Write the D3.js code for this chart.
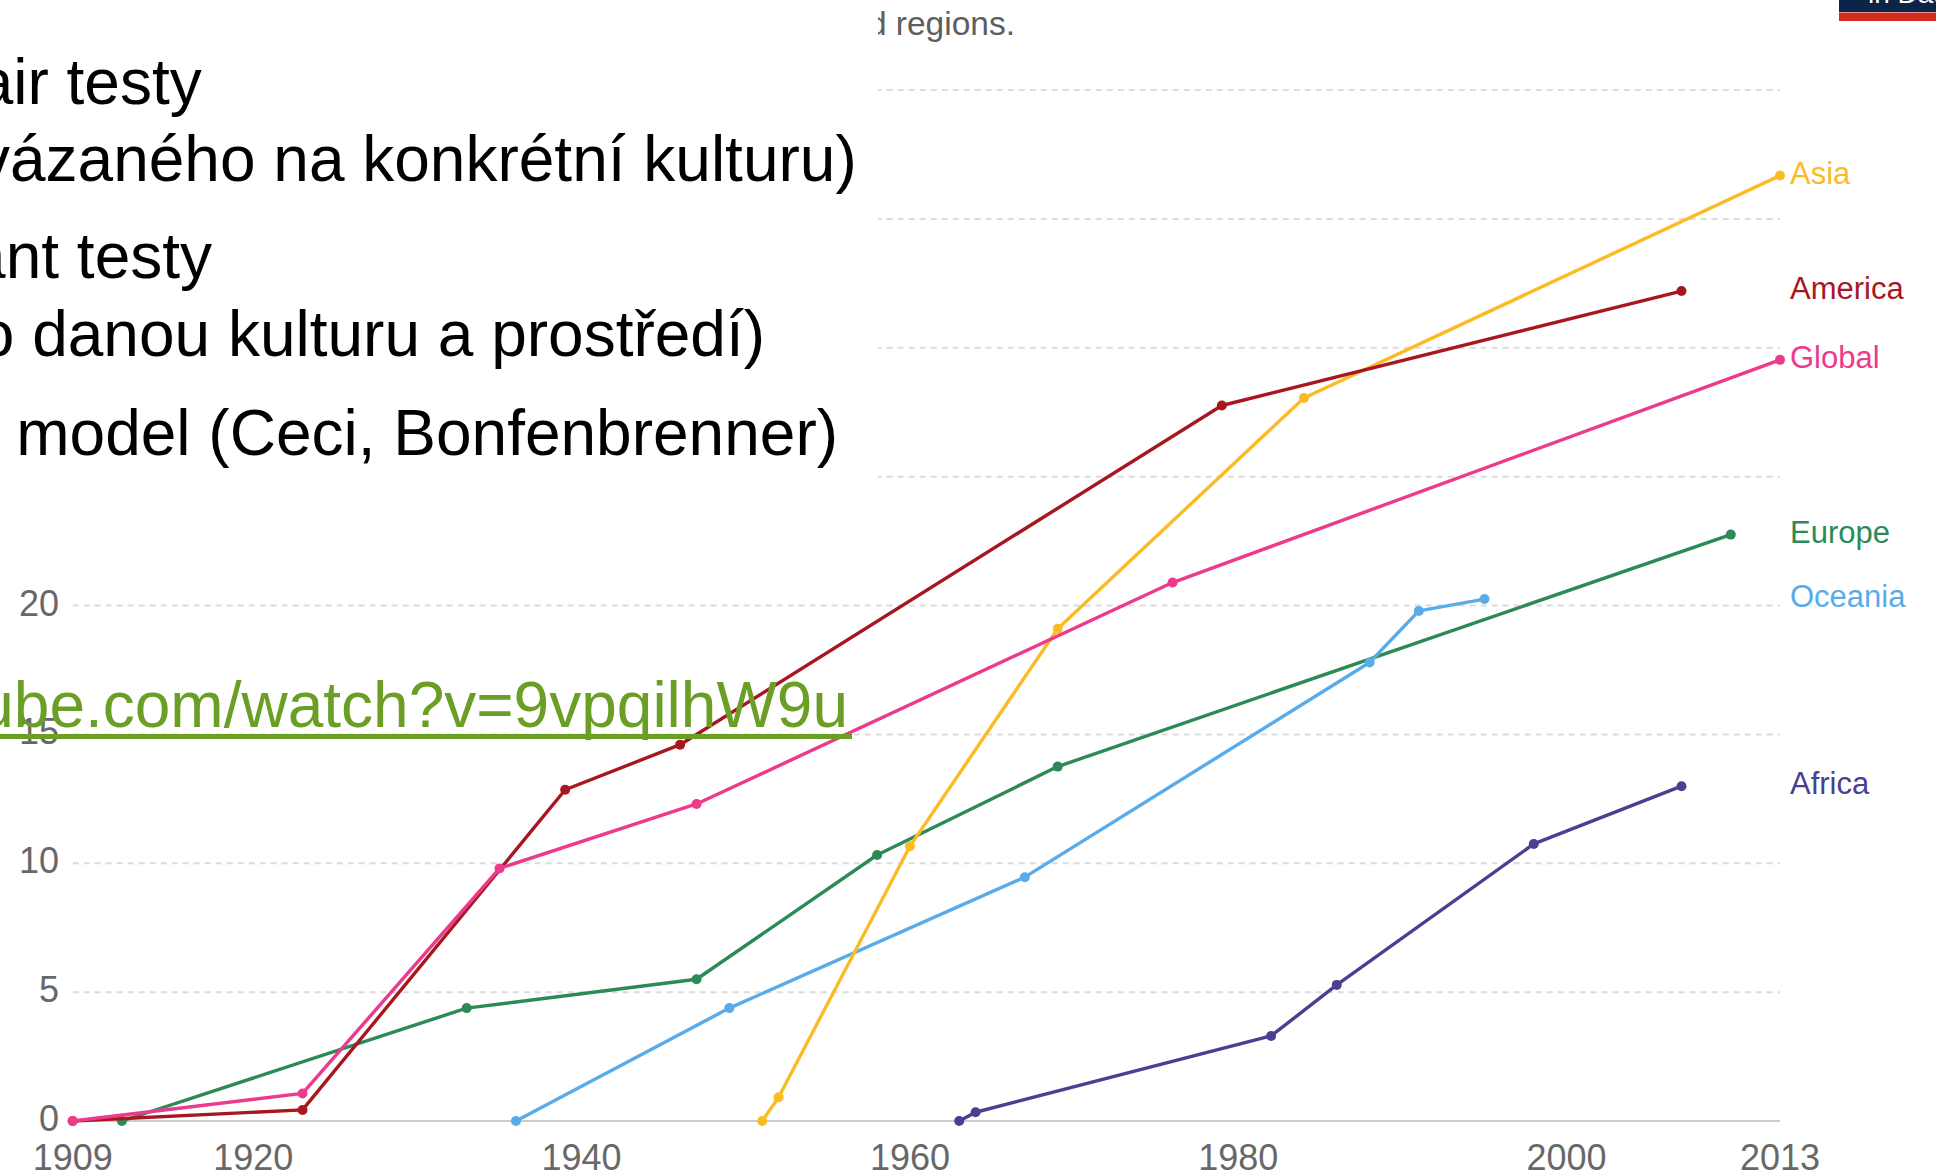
<!DOCTYPE html>
<meta charset="utf-8">
<style>
body { margin: 0; background: #fff; }
svg { display: block; font-family: "Liberation Sans", Arial, sans-serif; }
.grid line { stroke: #dcdcdc; stroke-width: 2px; stroke-dasharray: 6,5; }
.tick-label { fill: #686868; font-size: 36px; }
.series path { fill: none; stroke-width: 3.4px; stroke-linejoin: round; }
.slide-text { fill: #000; font-size: 64px; }
</style>
<svg width="1936" height="1176"></svg>
<script src="https://d3js.org/d3.v7.min.js"></script>
<script>

var years = [1909, 1920, 1940, 1960, 1980, 2000, 2013];
var yTicks = [0, 5, 10, 15, 20, 25, 30, 35, 40];

var regions = ["Europe", "Oceania", "Africa", "Asia", "America", "Global"];
var colors = {
  Asia: "#fbbb25",
  America: "#a8171f",
  Global: "#ec3a8c",
  Europe: "#2b8a56",
  Oceania: "#59abea",
  Africa: "#4a3f90"
};

var asia    = [[1951, 0], [1952, 0.92], [1960, 10.66], [1969, 19.1], [1984, 28.05], [2013, 36.68]];
var america = [[1909, 0], [1923, 0.43], [1939, 12.85], [1946, 14.6], [1979, 27.76], [2007, 32.2]];
var global  = [[1909, 0], [1923, 1.07], [1935, 9.8], [1947, 12.3], [1976, 20.89], [2013, 29.53]];
var europe  = [[1912, 0], [1933, 4.38], [1947, 5.5], [1958, 10.32], [1969, 13.75], [2010, 22.75]];
var oceania = [[1936, 0], [1949, 4.38], [1967, 9.46], [1988, 17.79], [1991, 19.79], [1995, 20.25]];
var africa  = [[1963, 0], [1964, 0.34], [1982, 3.3], [1986, 5.28], [1998, 10.75], [2007, 12.99]];

var values = { Asia: asia, America: america, Global: global, Europe: europe, Oceania: oceania, Africa: africa };

var slideLines = [
  "air testy",
  "vázaného na konkrétní kulturu)",
  "ant testy",
  "o danou kulturu a prostředí)",
  " model (Ceci, Bonfenbrenner)"
];
var linkText = "ube.com/watch?v=9vpqilhW9u";
var subtitle = "d regions.";

var svg = d3.select("svg");

var x = d3.scaleLinear().domain([1909, 2013]).range([72.7, 1780]);
var y = d3.scaleLinear().domain([0, 40]).range([1121, 90]);

// white box of the slide covers the top-left of the chart
var overlayW = 878, overlayH = 530;

// grid
svg.append("g")
    .attr("class", "grid")
  .selectAll("line")
  .data(yTicks.filter(function(d) { return d > 0; }))
  .enter().append("line")
    .attr("x1", x(1909))
    .attr("x2", x(2013))
    .attr("y1", function(d) { return y(d); })
    .attr("y2", function(d) { return y(d); });

svg.append("line")
    .attr("x1", x(1909)).attr("x2", x(2013))
    .attr("y1", y(0)).attr("y2", y(0))
    .attr("stroke", "#cccccc")
    .attr("stroke-width", 2);

// labels above the box bottom are hidden by it anyway
svg.append("g")
  .selectAll("text")
  .data(yTicks.filter(function(d) { return y(d) > overlayH; }))
  .enter().append("text")
    .attr("class", "tick-label")
    .attr("x", 59)
    .attr("y", function(d) { return y(d) + 10; })
    .attr("text-anchor", "end")
    .text(function(d) { return d; });

svg.append("g")
  .selectAll("text")
  .data(years)
  .enter().append("text")
    .attr("class", "tick-label")
    .attr("x", function(d) { return x(d); })
    .attr("y", 1170)
    .attr("text-anchor", "middle")
    .text(function(d) { return d; });

// series
var line = d3.line()
    .x(function(d) { return x(d[0]); })
    .y(function(d) { return y(d[1]); });

var series = svg.append("g")
    .attr("class", "series")
  .selectAll("g")
  .data(regions)
  .enter().append("g");

series.append("path")
    .attr("stroke", function(r) { return colors[r]; })
    .attr("d", function(r) { return line(values[r]); });

series.selectAll("circle")
  .data(function(r) { return values[r].map(function(p) { return { r: r, p: p }; }); })
  .enter().append("circle")
    .attr("cx", function(d) { return x(d.p[0]); })
    .attr("cy", function(d) { return y(d.p[1]); })
    .attr("r", 5)
    .attr("fill", function(d) { return colors[d.r]; });

svg.append("g")
  .selectAll("text")
  .data(regions)
  .enter().append("text")
    .attr("x", 1790)
    .attr("y", function(r) { var v = values[r]; return y(v[v.length - 1][1]) + 8; })
    .attr("fill", function(r) { return colors[r]; })
    .style("font-size", "31px")
    .text(function(r) { return r; });

// subtitle + logo
svg.append("text")
    .attr("x", 1015)
    .attr("y", 35)
    .attr("text-anchor", "end")
    .attr("fill", "#5e5e5e")
    .style("font-size", "33.5px")
    .text(subtitle);

svg.append("rect").attr("x", 1839).attr("y", 0).attr("width", 97).attr("height", 12).attr("fill", "#0b2447");
svg.append("rect").attr("x", 1839).attr("y", 12.5).attr("width", 97).attr("height", 8.5).attr("fill", "#d42a20");
svg.append("text")
    .attr("x", 1868).attr("y", 3)
    .attr("fill", "#fff")
    .style("font-size", "28px")
    .text("in Data");

// slide overlay
svg.append("rect")
    .attr("x", 0).attr("y", 0)
    .attr("width", overlayW).attr("height", overlayH)
    .attr("fill", "#fff");

var lineEnds = [201.7, 856.7, 212, 765, 838];
var lineBase = [104, 181, 278, 356, 455];

svg.append("g")
  .selectAll("text")
  .data(slideLines)
  .enter().append("text")
    .attr("class", "slide-text")
    .attr("x", function(d, i) { return lineEnds[i]; })
    .attr("y", function(d, i) { return lineBase[i]; })
    .attr("text-anchor", "end")
    .style("white-space", "pre")
    .text(function(d) { return d; });

svg.append("text")
    .attr("x", 848)
    .attr("y", 727)
    .attr("text-anchor", "end")
    .attr("fill", "#6b9e24")
    .style("font-size", "64px")
    .text(linkText);

svg.append("line")
    .attr("x1", 0).attr("x2", 852)
    .attr("y1", 736.5).attr("y2", 736.5)
    .attr("stroke", "#6b9e24")
    .attr("stroke-width", 5);

</script>
